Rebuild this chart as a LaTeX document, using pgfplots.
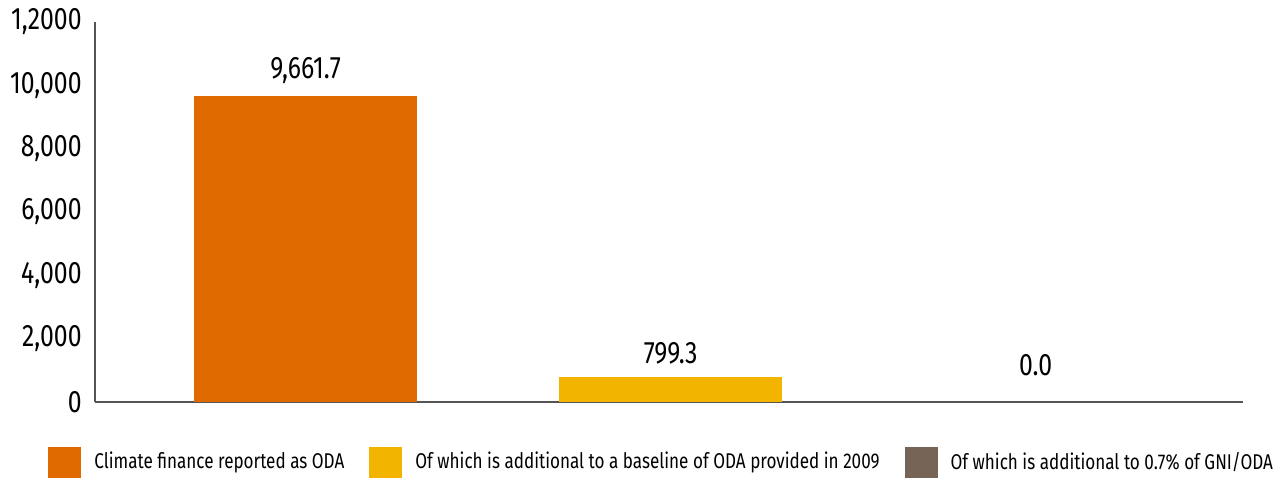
\documentclass[border=0pt]{standalone}
\usepackage{fontspec}
\setmainfont{Fira Sans}
\newfontfamily\condfont[FakeStretch=0.8]{Fira Sans}
\usepackage{pgfplots}
\pgfplotsset{compat=1.18}
\definecolor{c1}{HTML}{E06A00}
\definecolor{c2}{HTML}{F3B400}
\definecolor{c3}{HTML}{766556}
\definecolor{axc}{HTML}{555555}
\newcommand\tickfont{\condfont\fontsize{15.5bp}{18bp}\selectfont}
\newcommand\labfont{\condfont\fontsize{15.5bp}{18bp}\selectfont}
\newcommand\legfont{\condfont\fontsize{10.68bp}{13bp}\selectfont}
\pgfplotsset{legbox/.style={legend image code/.code={\fill[##1,draw=none] (0bp,-7.75bp) rectangle (16.5bp,7.75bp);}}}
\begin{document}
\begin{tikzpicture}
\useasboundingbox (-47.5bp,-39bp) rectangle (595.5bp,201bp);
\begin{axis}[
 at={(0,0)}, anchor=south west,
 scale only axis, width=574bp, height=190bp,
 ybar, bar width=111.5bp, bar shift=0pt,
 xmin=-0.577, xmax=2.568, ymin=0, ymax=12000,
 axis x line*=bottom, axis y line*=left,
 axis line style={draw=axc, line width=0.75bp, -},
 xtick=\empty,
 scaled y ticks=false,
 ytick={0,2000,4000,6000,8000,10000,12000},
 yticklabels={0,{2,000},{4,000},{6,000},{8,000},{10,000},{1,2000}},
 major tick length=0pt,
 ytick style={draw=none},
 yticklabel style={font=\tickfont, inner sep=0pt, xshift=-6.5bp, text=black},
 nodes near coords={\pgfmathprintnumber[fixed,fixed zerofill,precision=1,1000 sep={,}]{\pgfplotspointmeta}},
 every node near coord/.append style={font=\labfont, inner sep=0pt, yshift=6bp, text=black},
 /pgf/number format/assume math mode=true,
 legend columns=3,
 legend cell align=left,
 legend style={at={(-0.0409,-0.158)}, anchor=west, draw=none, fill=none, inner sep=0pt,
   font=\legfont, nodes={inner sep=0pt},
   /tikz/every odd column/.style={column sep=6.5bp},
   /tikz/every even column/.style={column sep=12.5bp}},
]
\addplot[fill=c1, draw=none, legbox] coordinates {(0,9661.7)};
\addlegendentry{Climate finance reported as ODA}
\addplot[fill=c2, draw=none, legbox] coordinates {(1,799.3)};
\addlegendentry{Of which is additional to a baseline of ODA provided in 2009}
\addplot[fill=c3, draw=none, legbox, every node near coord/.append style={yshift=7bp}] coordinates {(2,0)};
\addlegendentry{Of which is additional to 0.7\% of GNI/ODA}
\end{axis}
\end{tikzpicture}
\end{document}
